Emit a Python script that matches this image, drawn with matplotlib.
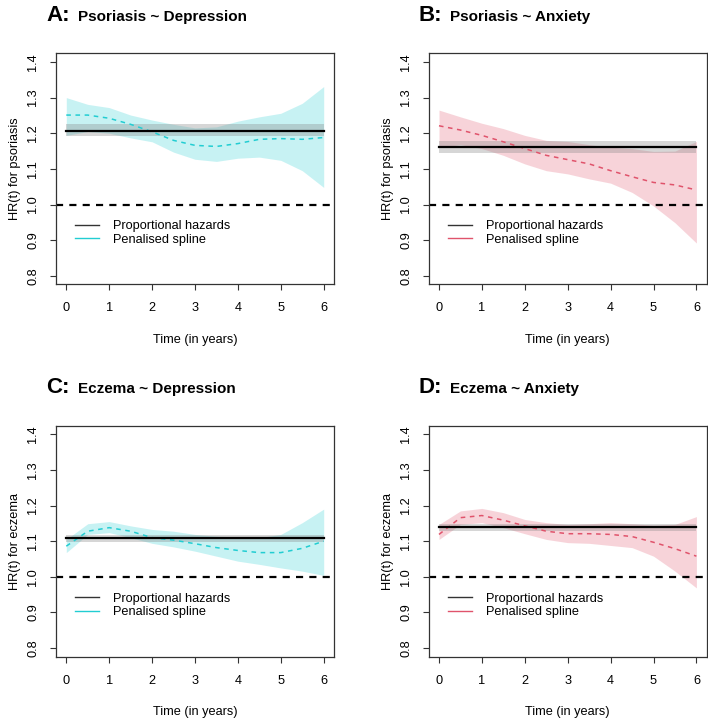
import matplotlib.pyplot as plt
import numpy as np

plt.rcParams['font.family'] = ['Liberation Sans', 'DejaVu Sans']

# time grid (years)
t = [0, 0.5, 1, 1.5, 2, 2.5, 3, 3.5, 4, 4.5, 5, 5.5, 6]

# Panel A: Psoriasis ~ Depression
a_hr = [1.251, 1.251, 1.242, 1.225, 1.204, 1.180, 1.166, 1.163, 1.171, 1.183, 1.185, 1.183, 1.188]
a_up = [1.300, 1.281, 1.272, 1.251, 1.237, 1.225, 1.215, 1.218, 1.234, 1.246, 1.256, 1.284, 1.331]
a_lo = [1.194, 1.205, 1.200, 1.187, 1.176, 1.147, 1.127, 1.121, 1.130, 1.133, 1.124, 1.095, 1.048]
a_ph = [1.207, 1.192, 1.225]

# Panel B: Psoriasis ~ Anxiety
b_hr = [1.221, 1.209, 1.194, 1.176, 1.157, 1.138, 1.126, 1.114, 1.095, 1.078, 1.062, 1.055, 1.041]
b_up = [1.265, 1.246, 1.228, 1.213, 1.194, 1.180, 1.177, 1.168, 1.161, 1.157, 1.149, 1.150, 1.177]
b_lo = [1.160, 1.168, 1.157, 1.138, 1.114, 1.095, 1.086, 1.072, 1.060, 1.034, 0.996, 0.949, 0.892]
b_ph = [1.161, 1.145, 1.179]

# Panel C: Eczema ~ Depression
c_hr = [1.086, 1.128, 1.138, 1.128, 1.110, 1.103, 1.093, 1.082, 1.074, 1.068, 1.068, 1.080, 1.100]
c_up = [1.105, 1.149, 1.155, 1.143, 1.133, 1.128, 1.119, 1.114, 1.112, 1.110, 1.119, 1.152, 1.190]
c_lo = [1.068, 1.119, 1.124, 1.110, 1.094, 1.084, 1.072, 1.058, 1.044, 1.035, 1.025, 1.016, 1.004]
c_ph = [1.108, 1.098, 1.117]

# Panel D: Eczema ~ Anxiety
d_hr = [1.119, 1.166, 1.172, 1.159, 1.143, 1.128, 1.121, 1.121, 1.119, 1.113, 1.097, 1.079, 1.058]
d_up = [1.147, 1.185, 1.192, 1.180, 1.161, 1.152, 1.147, 1.149, 1.152, 1.149, 1.145, 1.147, 1.169]
d_lo = [1.105, 1.147, 1.152, 1.138, 1.121, 1.105, 1.096, 1.094, 1.088, 1.082, 1.058, 1.016, 0.969]
d_ph = [1.140, 1.130, 1.148]

letters = ['A:', 'B:', 'C:', 'D:']
titles = ['Psoriasis ~ Depression', 'Psoriasis ~ Anxiety',
          'Eczema ~ Depression', 'Eczema ~ Anxiety']
ylabels = ['HR(t) for psoriasis', 'HR(t) for psoriasis',
           'HR(t) for eczema', 'HR(t) for eczema']

cyan = '#22CDD2'
pink = '#E0536B'
colors = [cyan, pink, cyan, pink]
data = [(a_hr, a_up, a_lo, a_ph), (b_hr, b_up, b_lo, b_ph),
        (c_hr, c_up, c_lo, c_ph), (d_hr, d_up, d_lo, d_ph)]

fig = plt.figure(figsize=(7.08, 7.21), dpi=100)
W, H = 708, 721
# axes boxes in pixels: left, top
boxes = [(56, 53.4), (428.7, 53.4), (56, 425.7), (428.7, 425.7)]
bw, bh = 278, 231

for i in range(4):
    left, top = boxes[i]
    ax = fig.add_axes([left / W, 1 - (top + bh) / H, bw / W, bh / H])
    hr, up, lo, ph = data[i]
    col = colors[i]

    ax.fill_between(t, lo, up, color=col, alpha=0.25, linewidth=0)
    ax.fill_between([t[0], t[-1]], ph[1], ph[2], color='#8a8a8a', alpha=0.35, linewidth=0)
    ax.plot(t, hr, color=col, lw=1.1, dashes=(3, 3))
    ax.plot([t[0], t[-1]], [ph[0], ph[0]], color='black', lw=1.6)
    ax.axhline(1.0, color='black', lw=1.6, dashes=(3.2, 2.8))

    # legend
    h1, = ax.plot([], [], color='#333333', lw=1.0, label='Proportional hazards')
    h2, = ax.plot([], [], color=col, lw=1.0, label='Penalised spline')
    ax.legend(handles=[h1, h2], loc='upper left', bbox_to_anchor=(0.05, 0.30),
              frameon=False, fontsize=9.2, handlelength=1.9, handletextpad=1.1,
              labelspacing=0.12, borderaxespad=0)

    ax.set_xlim(-0.24, 6.24)
    ax.set_ylim(0.776, 1.424)
    ax.set_xticks([0, 1, 2, 3, 4, 5, 6])
    ax.set_yticks([0.8, 0.9, 1.0, 1.1, 1.2, 1.3, 1.4])
    ax.set_yticklabels(['0.8', '0.9', '1.0', '1.1', '1.2', '1.3', '1.4'])
    ax.tick_params(axis='both', direction='out', length=4, width=0.8,
                   labelsize=9.2, color='#333333')
    ax.tick_params(axis='x', pad=9)
    ax.tick_params(axis='y', pad=8, labelrotation=90)
    for lab in ax.get_yticklabels():
        lab.set_va('center')
    for sp in ax.spines.values():
        sp.set_linewidth(0.9)
        sp.set_color('#333333')

    ax.set_xlabel('Time (in years)', fontsize=9.2)
    ax.xaxis.set_label_coords(0.5, -0.215)
    ax.set_ylabel(ylabels[i], fontsize=9.2)
    ax.yaxis.set_label_coords(-0.125, 0.5)

    ax.text(-0.035, 1.14, letters[i], transform=ax.transAxes, fontsize=16,
            fontweight='bold', ha='left', va='baseline')
    ax.text(0.078, 1.14, titles[i], transform=ax.transAxes, fontsize=11,
            fontweight='bold', ha='left', va='baseline')

fig.savefig('out.png', dpi=100)
